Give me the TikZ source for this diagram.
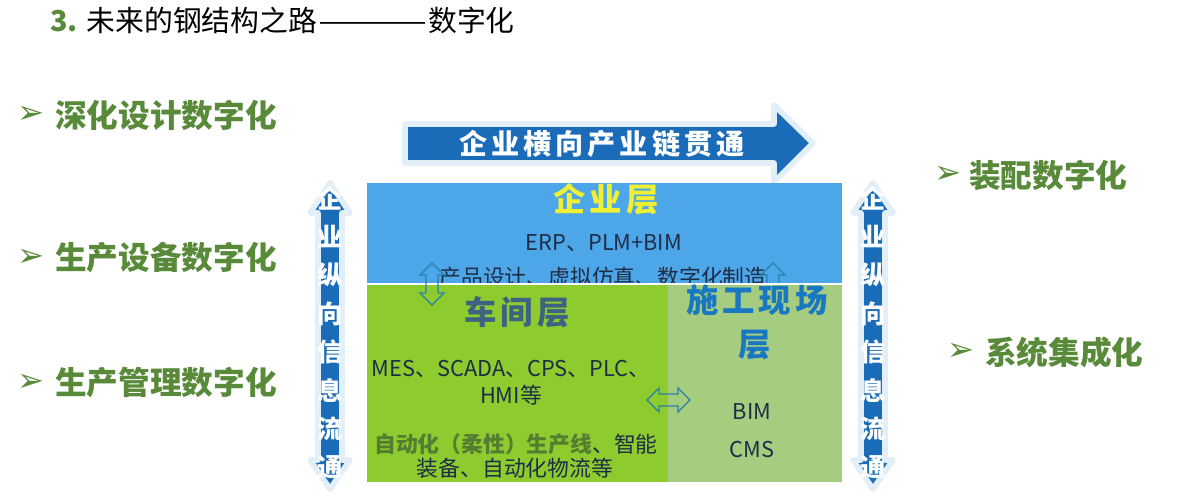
\documentclass[tikz,border=0pt]{standalone}
\usepackage{fontspec}
\setmainfont{Noto Sans CJK SC}
\newfontfamily\symfont{DejaVu Sans}
\newcommand{\fsz}[1]{\fontsize{#1}{#1}\selectfont}

\tikzset{
  bullet/.style={inner sep=0pt, text=bulletgreen, font=\symfont\fsz{23}},
  topic/.style={anchor=west, inner sep=0pt, text=bulletgreen, font=\bfseries\fsz{22.5}},
  layertitle/.style={inner sep=0pt, font=\bfseries\fsz{23}\addfontfeature{LetterSpace=12}},
  layertext/.style={inner sep=0pt, text=textnavy, font=\fsz{15.5}},
  vtxt/.style={inner sep=0pt, text=white, font=\bfseries\fsz{18}},
  glow/.style={draw=arrowglow, line width=4pt, line join=round},
  hollow/.style={draw=hollowline, line width=0.9pt, line join=miter}
}

\begin{document}
\begin{tikzpicture}[x=0.025cm, y=-0.025cm]

    % Define colors
    \definecolor{arrowblue}{RGB}{26,108,184}
    \definecolor{arrowglow}{RGB}{226,238,248}
    \definecolor{layerblue}{RGB}{77,166,232}
    \definecolor{shopgreen}{RGB}{141,203,46}
    \definecolor{sitegreen}{RGB}{166,204,128}
    \definecolor{bulletgreen}{RGB}{88,138,58}
    \definecolor{textnavy}{RGB}{30,45,70}
    \definecolor{titleyellow}{RGB}{240,240,50}
    \definecolor{shoptitle}{RGB}{60,100,130}
    \definecolor{sitetitle}{RGB}{25,120,195}
    \definecolor{hollowline}{RGB}{40,130,170}
    \definecolor{boldolive}{RGB}{85,125,50}

    \useasboundingbox[fill=white] (0,0) rectangle (1192,498);

    % Title
    \node[anchor=west, inner sep=0pt, font=\fsz{20.5}] (title) at (50,20)
        {\textcolor{bulletgreen}{\bfseries 3.} 未来的钢结构之路\scalebox{2.3}[1]{——}数字化};

    %-------------
    % Left topics
    \node[bullet] (lb1) at (31,115) {➢};
    \node[topic] (lt1) at (55,115) {深化设计数字化};
    \node[bullet] (lb2) at (31,258) {➢};
    \node[topic] (lt2) at (55,258) {生产设备数字化};
    \node[bullet] (lb3) at (31,383) {➢};
    \node[topic] (lt3) at (55,383) {生产管理数字化};

    % Right topics
    \node[bullet] (rb1) at (948,175) {➢};
    \node[topic] (rt1) at (969,175) {装配数字化};
    \node[bullet] (rb2) at (961,352) {➢};
    \node[topic] (rt2) at (985,352) {系统集成化};

    %-------------
    % Horizontal arrow
    \filldraw[glow, fill=arrowblue] (405,124) -- (774,124) -- (774,105) -- (813,143)
        -- (774,182) -- (774,163) -- (405,163) -- cycle;
    \node[inner sep=0pt, text=white, font=\bfseries\fsz{20}\addfontfeature{LetterSpace=14}] (chain) at (602,144)
        {企业横向产业链贯通};

    %-------------
    % Enterprise layer
    \fill[layerblue] (367,183) rectangle (842,283);
    \node[layertitle, text=titleyellow] (ent) at (606,199) {企业层};
    \node[layertext] (erp) at (604,243) {ERP、PLM+BIM};
    \node[layertext] (design) at (603,277) {产品设计、虚拟仿真、数字化制造};
    \filldraw[hollow, fill=none] (773,263) -- (785,275) -- (779,275) -- (779,293) -- (785,293)
        -- (773,305) -- (761,293) -- (767,293) -- (767,275) -- (761,275) -- cycle;

    %-------------
    % Shop and site layers
    \fill[white] (367,283) rectangle (842,285);
    \fill[shopgreen] (367,285) rectangle (668,482);
    \fill[sitegreen] (668,285) rectangle (842,482);

    \filldraw[hollow, fill=none] (432,263) -- (444,275) -- (438,275) -- (438,293) -- (444,293)
        -- (432,305) -- (420,293) -- (426,293) -- (426,275) -- (420,275) -- cycle;
    \filldraw[hollow, fill=none] (647,400) -- (659,388) -- (659,394) -- (678,394) -- (678,388)
        -- (690,400) -- (678,412) -- (678,406) -- (659,406) -- (659,412) -- cycle;

    \node[layertitle, text=shoptitle] (shop) at (517,312) {车间层};
    \node[layertext] (mes) at (511,369) {MES、SCADA、CPS、PLC、};
    \node[layertext] (hmi) at (511,395) {HMI等};
    \node[layertext] (line) at (516,444) {\textcolor{boldolive}{\bfseries 自动化（柔性）生产线}、智能};
    \node[layertext] (equip) at (515,468) {装备、自动化物流等};

    \node[layertitle, text=sitetitle] (site) at (757,300) {施工现场};
    \node[layertitle, text=sitetitle] (site2) at (755,345) {层};
    \node[layertext] (bim) at (752,412) {BIM};
    \node[layertext] (cms) at (752,450) {CMS};

    %-------------
    % Vertical arrows
    \filldraw[glow, fill=arrowblue] (330,183) -- (350,213) -- (342,213) -- (342,460) -- (350,460)
        -- (330,489) -- (310,460) -- (318,460) -- (318,213) -- (310,213) -- cycle;
    \filldraw[glow, fill=arrowblue] (873,183) -- (893,213) -- (885,213) -- (885,460) -- (893,460)
        -- (873,489) -- (853,460) -- (861,460) -- (861,213) -- (853,213) -- cycle;
    \foreach \ch [count=\i from 0] in {企,业,纵,向,信,息,流,通} {
        \node[vtxt] (lv\i) at (330,198+38.5*\i) {\ch};
        \node[vtxt] (rv\i) at (873,198+38.5*\i) {\ch};
    }

\end{tikzpicture}
\end{document}
